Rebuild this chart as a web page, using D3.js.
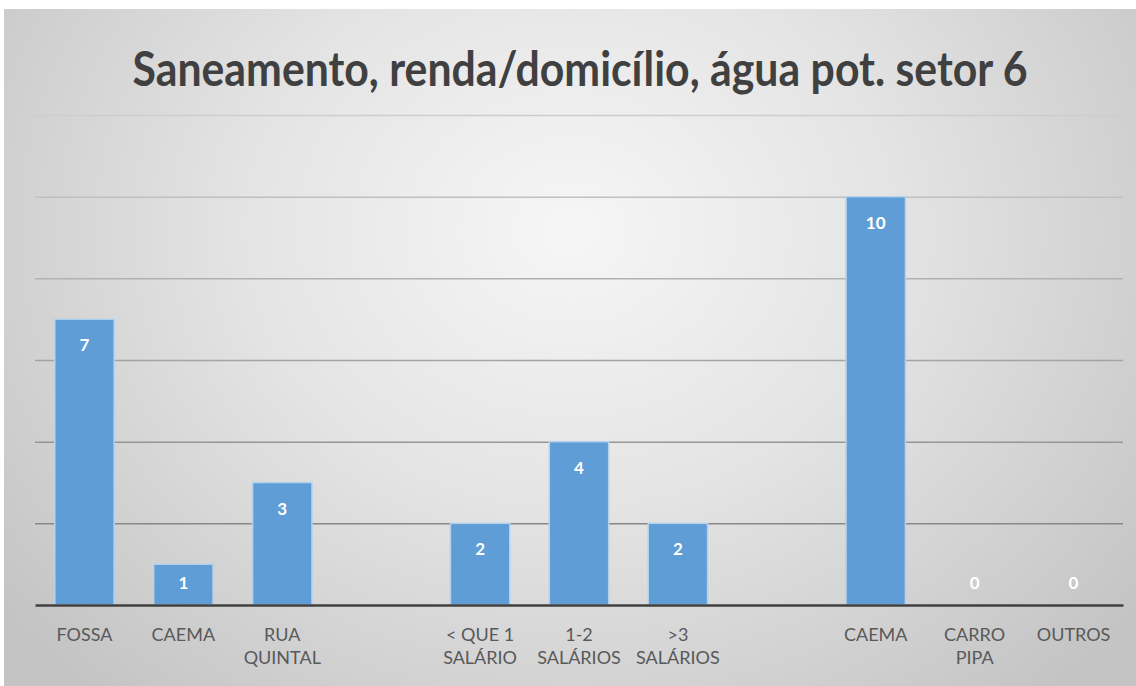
<!DOCTYPE html>
<html>
<head>
<meta charset="utf-8">
<script src="https://cdn.jsdelivr.net/npm/d3@7"></script>
<style>
  html, body { margin: 0; padding: 0; background: #fff; }
  svg { display: block; }
</style>
</head>
<body>
<div id="chart"></div>
<script>
"use strict";

// categories (two-line labels split by \n, empty string = gap slot)
const categories = ["FOSSA", "CAEMA", "RUA\nQUINTAL", "", "< QUE 1\nSALÁRIO", "1-2\nSALÁRIOS", ">3\nSALÁRIOS", "", "CAEMA", "CARRO\nPIPA", "OUTROS"];
const values = [7, 1, 3, null, 2, 4, 2, null, 10, 0, 0];
const yTicks = [0, 2, 4, 6, 8, 10, 12];
const title = "Saneamento, renda/domicílio, água pot. setor 6";

const W = 1136, H = 686;
const svg = d3.select('#chart').append('svg').attr('width', W).attr('height', H);
const defs = svg.append('defs');

// card background, lighter in the middle
let bg = defs.append('radialGradient').attr('id', 'bg')
  .attr('gradientUnits', 'userSpaceOnUse')
  .attr('cx', 570).attr('cy', 230).attr('r', 720)
  .attr('gradientTransform', 'translate(570,230) scale(1,0.85) translate(-570,-230)');
bg.append('stop').attr('offset', 0).attr('stop-color', '#f6f6f6');
bg.append('stop').attr('offset', 0.45).attr('stop-color', '#e4e4e4');
bg.append('stop').attr('offset', 1).attr('stop-color', '#c4c4c4');

svg.append('rect').attr('x', 4).attr('y', 9).attr('width', W - 4).attr('height', H - 9)
  .attr('fill', 'url(#bg)');

const x = d3.scaleBand()
  .domain(d3.range(categories.length))
  .range([35, 1123])
  .paddingInner(0.4)
  .paddingOuter(0.2);

const y = d3.scaleLinear().domain([0, 12]).range([605, 115]);

// gridlines, getting darker toward the bottom
const gridCol = d3.scaleLinear().domain([0, 12]).range(['#7a7a7a', '#cdcdcd']);
const grid = d3.axisLeft(y).tickValues(yTicks.filter(d => d > 0)).tickSize(-(1123 - 35)).tickFormat('');
svg.append('g').attr('transform', 'translate(35,0)').call(grid)
  .call(g => g.select('.domain').remove())
  .selectAll('.tick line')
  .attr('stroke', d => gridCol(d))
  .attr('stroke-width', 1.5);

// bars
const barG = svg.append('g');
const data = values.map((v, i) => ({i, v})).filter(d => d.v !== null);
barG.selectAll('rect').data(data.filter(d => d.v > 0)).join('rect')
  .attr('x', d => x(d.i))
  .attr('y', d => y(d.v))
  .attr('width', x.bandwidth())
  .attr('height', d => y(0) - y(d.v))
  .attr('fill', '#5f9dd7')
  .attr('stroke', '#b5d2ec')
  .attr('stroke-width', 1.5);

// value labels
barG.selectAll('text').data(data).join('text')
  .attr('x', d => x(d.i) + x.bandwidth() / 2)
  .attr('y', d => Math.min(y(d.v) + 26, y(0) - 22) + 6)
  .attr('text-anchor', 'middle')
  .attr('font-family', 'Lato, "Open Sans", sans-serif')
  .attr('font-weight', 'bold')
  .attr('font-size', 17)
  .attr('fill', '#ffffff')
  .text(d => d.v);

// baseline axis
const xAxis = d3.axisBottom(x).tickSize(0).tickFormat('');
svg.append('g').attr('transform', `translate(0,${y(0)})`).call(xAxis)
  .select('.domain').attr('stroke', '#404040').attr('stroke-width', 2.5);

// category labels
const lab = svg.append('g')
  .attr('font-family', 'Lato, "Open Sans", sans-serif')
  .attr('font-size', 18)
  .attr('fill', '#595959');
categories.forEach((c, i) => {
  if (!c) return;
  let t = lab.append('text').attr('text-anchor', 'middle')
    .attr('x', x(i) + x.bandwidth() / 2).attr('y', 641);
  c.split('\n').forEach((line, k) => {
    t.append('tspan').attr('x', x(i) + x.bandwidth() / 2).attr('dy', k ? 23 : 0).text(line);
  });
});

// title
svg.append('text')
  .attr('x', 580).attr('y', 86)
  .attr('text-anchor', 'middle')
  .attr('font-family', 'Lato, "Open Sans", sans-serif')
  .attr('font-weight', 'bold')
  .attr('font-size', 47)
  .attr('fill', '#404040')
  .attr('textLength', 895)
  .attr('lengthAdjust', 'spacingAndGlyphs')
  .text(title);
</script>
</body>
</html>
